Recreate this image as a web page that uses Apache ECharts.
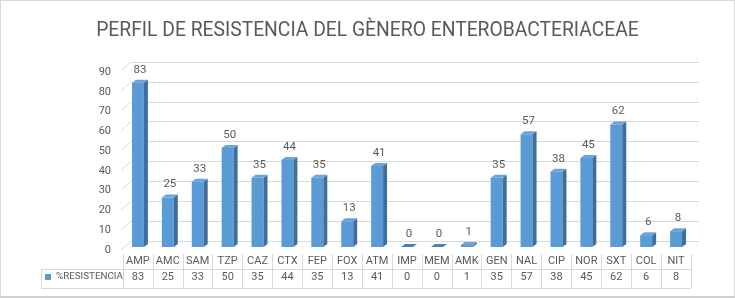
<!DOCTYPE html>
<html>
<head>
<meta charset="utf-8">
<script src="https://cdn.jsdelivr.net/npm/echarts@6/dist/echarts.min.js"></script>
<style>
html,body{margin:0;padding:0;background:#fff;}
#c{width:733px;height:295px;border:1px solid #d9d9d9;border-bottom:2px solid #d0d0d0;}
</style>
</head>
<body>
<div id="c"></div>
<script>
const titleText = 'PERFIL DE RESISTENCIA DEL GÈNERO ENTEROBACTERIACEAE';
const seriesName = '%RESISTENCIA';
const categories = ['AMP','AMC','SAM','TZP','CAZ','CTX','FEP','FOX','ATM','IMP','MEM','AMK','GEN','NAL','CIP','NOR','SXT','COL','NIT'];
const values = [83,25,33,50,35,44,35,13,41,0,0,1,35,57,38,45,62,6,8];
const yTicks = [0,10,20,30,40,50,60,70,80,90];

const FONT = 'Roboto, "Liberation Sans", sans-serif';
const TXT = '#595959';
const GRIDC = '#d9d9d9';

const chart = echarts.init(document.getElementById('c'), null, {renderer:'canvas'});

const option = {
  animation: false,
  title: {
    text: titleText, left: 'center', top: 16,
    textStyle: {fontFamily: FONT, fontSize: 19.3, fontWeight: 'normal', color: TXT}
  },
  legend: {
    data: [seriesName], left: 44, top: 271, padding: 0, itemWidth: 6, itemHeight: 6, itemGap: 3,
    icon: 'rect', selectedMode: false,
    textStyle: {fontFamily: FONT, fontSize: 9.8, color: TXT}
  },
  grid: [
    {left: 130, right: 35, top: 61, height: 179},
    {left: 122, right: 43, top: 68, height: 178},
    {left: 122, right: 43, top: 71, height: 178},
    {left: 40, right: 43, top: 268, height: 19},
    {left: 122, right: 43, top: 253, height: 34}
  ],
  xAxis: [
    {gridIndex: 0, type: 'value', min: 0, max: 1, show: false},
    {gridIndex: 1, type: 'category', data: categories, show: false, boundaryGap: true},
    {gridIndex: 2, type: 'value', min: 0, max: 1, show: false},
    {gridIndex: 3, type: 'value', min: 0, max: 1, show: false},
    {gridIndex: 4, type: 'category', data: categories, boundaryGap: true, position: 'bottom',
      axisLine: {show: false}, axisTick: {show: false},
      splitLine: {show: true, interval: 0, lineStyle: {color: GRIDC, width: 1}},
      axisLabel: {
        inside: true, interval: 0, margin: 3, color: TXT, fontFamily: FONT, fontSize: 11, lineHeight: 16,
        formatter: (v, i) => v + '\n' + values[i]
      }
    }
  ],
  yAxis: [
    {gridIndex: 0, type: 'value', min: 0, max: 90, interval: 10,
      axisLine: {show: false}, axisTick: {show: false}, axisLabel: {show: false},
      splitLine: {show: true, lineStyle: {color: GRIDC, width: 1}}},
    {gridIndex: 1, type: 'value', min: 0, max: 90, interval: 10, show: false, splitLine: {show: false}},
    {gridIndex: 2, type: 'value', min: 0, max: 90, interval: 10,
      axisLine: {show: false}, axisTick: {show: false}, splitLine: {show: false},
      axisLabel: {margin: 12, color: TXT, fontFamily: FONT, fontSize: 11}},
    {gridIndex: 3, type: 'value', min: 0, max: 1, interval: 1,
      axisLine: {show: true, lineStyle: {color: GRIDC}}, axisTick: {show: false}, axisLabel: {show: false},
      splitLine: {show: true, lineStyle: {color: GRIDC, width: 1}}},
    {gridIndex: 4, type: 'value', min: 0, max: 1, show: false, splitLine: {show: false}}
  ],
  series: [
    {
      type: 'custom', xAxisIndex: 0, yAxisIndex: 0, silent: true,
      data: yTicks.map(t => [0, t]),
      renderItem: (params, api) => {
        const p = api.coord([0, api.value(1)]);
        return {type: 'line', shape: {x1: p[0] - 10, y1: p[1] + 9, x2: p[0], y2: p[1]},
          style: {stroke: GRIDC, lineWidth: 1}};
      }
    },
    {
      name: seriesName, type: 'custom', xAxisIndex: 1, yAxisIndex: 1,
      itemStyle: {color: '#5b9bd5'},
      data: values.map((v, i) => [i, v]),
      renderItem: (params, api) => {
        const i = api.value(0), v = api.value(1);
        const top = api.coord([i, v]);
        const base = api.coord([i, 0]);
        const w = api.size([1, 0])[0] * 0.4;
        const dx = 4, dy = 3;
        const xl = top[0] - w / 2, xr = top[0] + w / 2;
        const yt = top[1], yb = base[1];
        return {
          type: 'group',
          children: [
            {type: 'rect', shape: {x: xl, y: yt, width: w, height: yb - yt},
              style: {fill: '#5b9bd5'}},
            {type: 'polygon', shape: {points: [[xr, yt], [xr + dx, yt - dy], [xr + dx, yb - dy], [xr, yb]]},
              style: {fill: '#3e6e9c'}},
            {type: 'polygon', shape: {points: [[xl, yt], [xl + dx, yt - dy], [xr + dx, yt - dy], [xr, yt]]},
              style: {fill: v === 0 ? '#4a7fb5' : '#6aa4da'}},
            {type: 'text', style: {text: String(v), x: top[0] + 2, y: yt - 13, align: 'center', verticalAlign: 'middle',
              fill: TXT, font: '11.5px ' + FONT}}
          ]
        };
      }
    }
  ]
};
chart.setOption(option);
</script>
</body>
</html>
